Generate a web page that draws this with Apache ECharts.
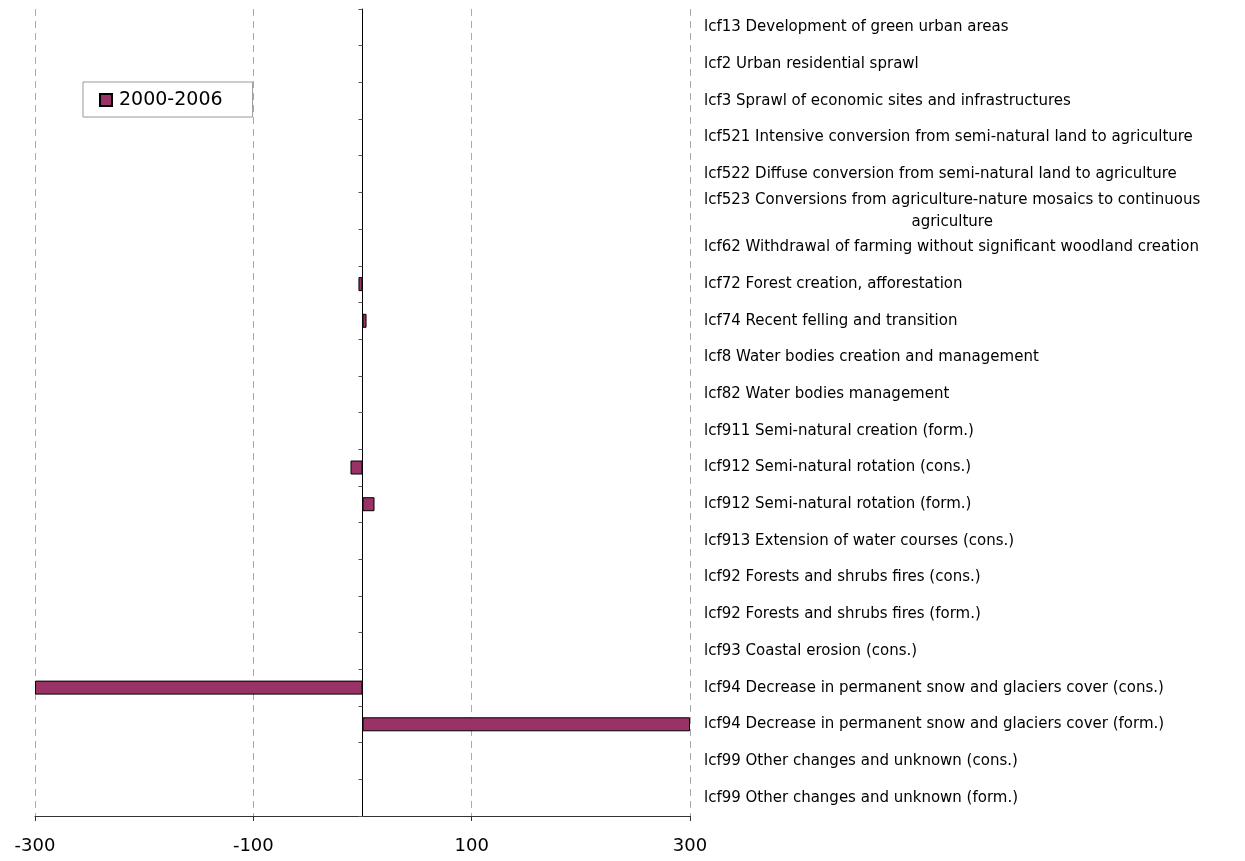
<!DOCTYPE html>
<html>
<head>
<meta charset="utf-8">
<script src="https://cdn.jsdelivr.net/npm/echarts@6/dist/echarts.min.js"></script>
<style>
html,body{margin:0;padding:0;background:#fff;}
#main{width:1245px;height:861px;}
</style>
</head>
<body>
<div id="main"></div>
<script>
var categories = [
  'lcf13 Development of green urban areas',
  'lcf2 Urban residential sprawl',
  'lcf3 Sprawl of economic sites and infrastructures',
  'lcf521 Intensive conversion from semi-natural land to agriculture',
  'lcf522 Diffuse conversion from semi-natural land to agriculture',
  'lcf523 Conversions from agriculture-nature mosaics to continuous agriculture',
  'lcf62 Withdrawal of farming without significant woodland creation',
  'lcf72 Forest creation, afforestation',
  'lcf74 Recent felling and transition',
  'lcf8 Water bodies creation and management',
  'lcf82 Water bodies management',
  'lcf911 Semi-natural creation (form.)',
  'lcf912 Semi-natural rotation (cons.)',
  'lcf912 Semi-natural rotation (form.)',
  'lcf913 Extension of water courses (cons.)',
  'lcf92 Forests and shrubs fires (cons.)',
  'lcf92 Forests and shrubs fires (form.)',
  'lcf93 Coastal erosion (cons.)',
  'lcf94 Decrease in permanent snow and glaciers cover (cons.)',
  'lcf94 Decrease in permanent snow and glaciers cover (form.)',
  'lcf99 Other changes and unknown (cons.)',
  'lcf99 Other changes and unknown (form.)'
];
var seriesName = '2000-2006';
var values2000_2006 = [0, 0, 0, 0, 0, 0, 0, -3.7, 3.7, 0, 0, 0, -11, 11, 0, 0, 0, 0, -300, 300, 0, 0];
var xTickLabels = ['-300', '-100', '100', '300'];

var chart = echarts.init(document.getElementById('main'));
var FONT = 'DejaVu Sans';
chart.setOption({
  animation: false,
  backgroundColor: '#fff',
  grid: {left: 35, right: 555, top: 9, bottom: 45, containLabel: false},
  legend: {
    data: [seriesName],
    icon: 'rect',
    left: 83, top: 82,
    orient: 'vertical',
    backgroundColor: '#fff',
    borderColor: '#999',
    borderWidth: 1,
    borderRadius: 0,
    padding: [8, 30, 7, 16],
    itemWidth: 12, itemHeight: 12,
    itemGap: 0,
    textStyle: {fontFamily: FONT, fontSize: 19, lineHeight: 20, color: '#000', padding: [0, 0, 0, 2]}
  },
  xAxis: {
    type: 'value',
    min: -300, max: 300, interval: 200,
    axisLine: {show: true, lineStyle: {color: '#333', width: 1}},
    axisTick: {show: true, length: 5, lineStyle: {color: '#333'}},
    axisLabel: {
      margin: 21,
      fontFamily: FONT, fontSize: 18, color: '#000',
      formatter: function (v) {
        var s = String(Math.round(v));
        return xTickLabels.indexOf(s) >= 0 ? s : '';
      }
    },
    splitLine: {show: true, lineStyle: {color: '#aaa', type: [7, 5], width: 1}}
  },
  yAxis: [
    {
      type: 'category',
      data: categories,
      inverse: true,
      position: 'left',
      axisLine: {show: true, onZero: true, lineStyle: {color: '#000', width: 1}},
      axisTick: {show: true, length: 4, lineStyle: {color: '#555'}},
      axisLabel: {show: false},
      splitLine: {show: false}
    },
    {
      type: 'category',
      data: categories,
      inverse: true,
      position: 'right',
      axisLine: {show: false},
      axisTick: {show: false},
      splitLine: {show: false},
      axisLabel: {
        show: true,
        margin: 14,
        align: 'left',
        fontFamily: FONT, fontSize: 15, color: '#000',
        lineHeight: 22,
        formatter: function (v) {
          var key = 'agriculture-nature mosaics to continuous ';
          var i = v.indexOf(key);
          if (i >= 0) {
            var first = v.slice(0, i + key.length - 1);
            var second = v.slice(i + key.length);
            return '{a|' + first + '}\n{c|' + second + '}';
          }
          return v;
        },
        rich: {
          a: {fontFamily: FONT, fontSize: 15, color: '#000', lineHeight: 22},
          c: {fontFamily: FONT, fontSize: 15, color: '#000', lineHeight: 22, align: 'center'}
        }
      }
    }
  ],
  series: [{
    name: seriesName,
    type: 'bar',
    yAxisIndex: 0,
    data: values2000_2006,
    barWidth: 14,
    itemStyle: {color: '#993366', borderColor: '#000', borderWidth: 1}
  }]
});
</script>
</body>
</html>
